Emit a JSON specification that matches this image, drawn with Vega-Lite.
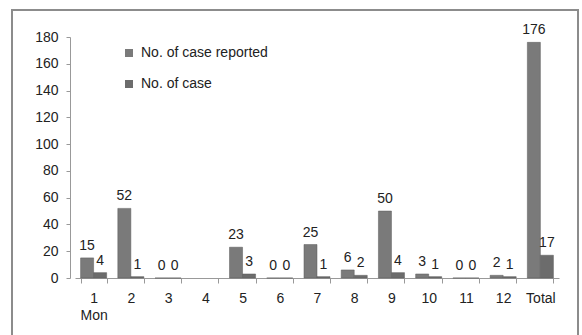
{
  "$schema": "https://vega.github.io/schema/vega-lite/v6.json",
  "width": 566,
  "height": 327,
  "autosize": {"type": "none"},
  "padding": {"left": 12, "top": 10, "right": 4, "bottom": 0},
  "background": "white",
  "config": {
    "view": {"stroke": "#8c8c8c", "strokeWidth": 2},
    "font": "Liberation Sans",
    "text": {"font": "Liberation Sans"}
  },
  "data": {
    "values": [
      {"month": "1", "series": "No. of case reported", "value": 15},
      {"month": "1", "series": "No. of case", "value": 4},
      {"month": "2", "series": "No. of case reported", "value": 52},
      {"month": "2", "series": "No. of case", "value": 1},
      {"month": "3", "series": "No. of case reported", "value": 0},
      {"month": "3", "series": "No. of case", "value": 0},
      {"month": "5", "series": "No. of case reported", "value": 23},
      {"month": "5", "series": "No. of case", "value": 3},
      {"month": "6", "series": "No. of case reported", "value": 0},
      {"month": "6", "series": "No. of case", "value": 0},
      {"month": "7", "series": "No. of case reported", "value": 25},
      {"month": "7", "series": "No. of case", "value": 1},
      {"month": "8", "series": "No. of case reported", "value": 6},
      {"month": "8", "series": "No. of case", "value": 2},
      {"month": "9", "series": "No. of case reported", "value": 50},
      {"month": "9", "series": "No. of case", "value": 4},
      {"month": "10", "series": "No. of case reported", "value": 3},
      {"month": "10", "series": "No. of case", "value": 1},
      {"month": "11", "series": "No. of case reported", "value": 0},
      {"month": "11", "series": "No. of case", "value": 0},
      {"month": "12", "series": "No. of case reported", "value": 2},
      {"month": "12", "series": "No. of case", "value": 1},
      {"month": "Total", "series": "No. of case reported", "value": 176},
      {"month": "Total", "series": "No. of case", "value": 17}
    ]
  },
  "encoding": {
    "x": {
      "field": "month",
      "type": "nominal",
      "sort": null,
      "scale": {
        "domain": ["1", "2", "3", "4", "5", "6", "7", "8", "9", "10", "11", "12", "Total"],
        "range": [63, 547],
        "paddingInner": 0.3,
        "paddingOuter": 0.15
      },
      "axis": {
        "title": null,
        "offset": -59,
        "labelAngle": 0,
        "tickBand": "extent",
        "tickSize": 5,
        "tickColor": "#999999",
        "domainColor": "#999999",
        "labelFontSize": 14,
        "labelColor": "#222222",
        "labelPadding": 8,
        "labelLineHeight": 17,
        "labelExpr": "datum.value == '1' ? ['1', 'Mon'] : datum.value"
      }
    },
    "xOffset": {
      "field": "series",
      "type": "nominal",
      "scale": {"domain": ["No. of case reported", "No. of case"]}
    },
    "y": {
      "field": "value",
      "type": "quantitative",
      "scale": {"domain": [0, 180], "range": [268, 27], "nice": false},
      "axis": {
        "title": null,
        "offset": -58,
        "values": [0, 20, 40, 60, 80, 100, 120, 140, 160, 180],
        "grid": false,
        "tickSize": 4,
        "tickColor": "#999999",
        "domainColor": "#999999",
        "labelFontSize": 14,
        "labelColor": "#222222",
        "labelPadding": 8
      }
    }
  },
  "layer": [
    {
      "mark": {"type": "bar", "stroke": "#5a5a5a", "strokeWidth": 0.5},
      "encoding": {
        "color": {
          "field": "series",
          "type": "nominal",
          "scale": {
            "domain": ["No. of case reported", "No. of case"],
            "range": ["#7a7a7a", "#6c6c6c"]
          },
          "legend": {
            "title": null,
            "orient": "none",
            "legendX": 110,
            "legendY": 36,
            "symbolType": "square",
            "symbolSize": 64,
            "symbolStrokeWidth": 0,
            "labelFontSize": 14,
            "labelColor": "#222222",
            "rowPadding": 17,
            "labelOffset": 5
          }
        }
      }
    },
    {
      "mark": {"type": "text", "baseline": "bottom", "dy": -5, "fontSize": 14, "color": "#222222"},
      "encoding": {"text": {"field": "value", "type": "quantitative"}}
    }
  ]
}
